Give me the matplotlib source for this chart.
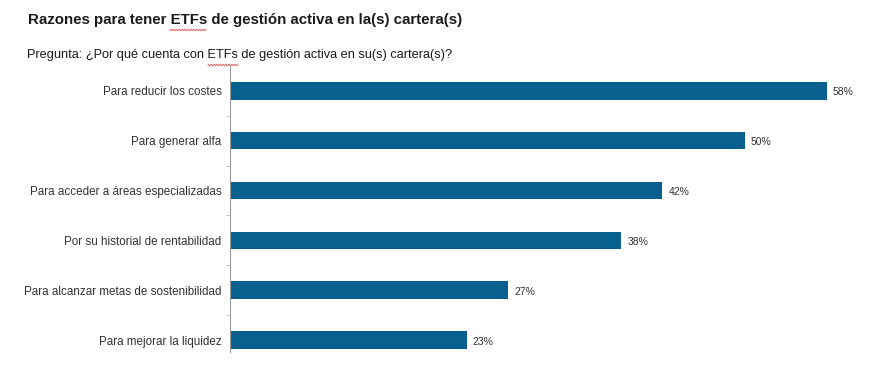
import numpy as np
import matplotlib.pyplot as plt
from matplotlib.lines import Line2D

plt.rcParams['font.family'] = ['Liberation Sans', 'DejaVu Sans']

# data
categories = ['Para reducir los costes', 'Para generar alfa',
              'Para acceder a áreas especializadas',
              'Por su historial de rentabilidad',
              'Para alcanzar metas de sostenibilidad',
              'Para mejorar la liquidez']
values = [58, 50, 42, 38, 27, 23]

bar_color = '#08608F'
text_color = '#333333'

W, H = 870, 368
fig = plt.figure(figsize=(8.7, 3.68), dpi=100)
ax = fig.add_axes([230 / W, 16 / H, 620 / W, 286 / H])

pos = list(range(len(categories)))
ax.barh(pos, values, height=0.35, color=bar_color)

for p, v in zip(pos, values):
    ax.text(v + 0.6, p + 0.03, f'{v}%', va='center', ha='left', fontsize=7.5, color=text_color)

ax.set_xlim(0, 60.25)
ax.set_ylim(5.24, -0.5)
ax.set_yticks(pos)
ax.set_yticklabels(categories, fontsize=8.4, color=text_color)
ax.tick_params(axis='y', which='major', length=0, pad=6)
ax.set_yticks([0.5, 1.5, 2.5, 3.5, 4.5], minor=True)
ax.tick_params(axis='y', which='minor', length=3, color='#BBBBBB')
ax.set_xticks([])
for s in ['top', 'right', 'bottom']:
    ax.spines[s].set_visible(False)
ax.spines['left'].set_color('#999999')
ax.spines['left'].set_linewidth(0.8)

fig.text(28 / W, 1 - 20 / H, 'Razones para tener ETFs de gestión activa en la(s) cartera(s)',
         fontsize=10.8, fontweight='bold', color='#1a1a1a', va='center', ha='left')
fig.text(27 / W, 1 - 55 / H, 'Pregunta: ¿Por qué cuenta con ETFs de gestión activa en su(s) cartera(s)?',
         fontsize=9.15, color='#1a1a1a', va='center', ha='left')


# red spell-check squiggle under "ETFs" as seen in the screenshot
def squiggle(x0, x1, y):
    xs = np.arange(x0, x1 + 1, 1.5)
    ys = y + np.where(np.arange(len(xs)) % 2 == 0, -0.8, 0.8)
    fig.lines.append(Line2D(xs / W, 1 - ys / H, transform=fig.transFigure,
                            color='#E06060', linewidth=0.7))


squiggle(170, 206, 30)
squiggle(208, 238, 65)

fig.savefig('out.png', dpi=100)
